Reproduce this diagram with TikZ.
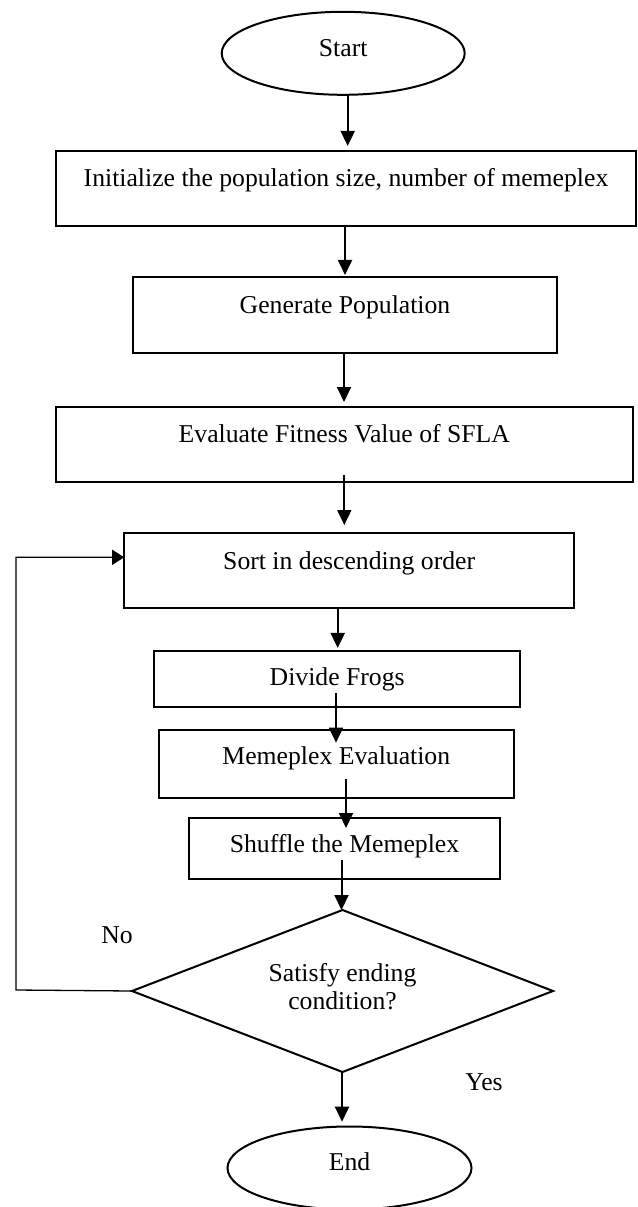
\documentclass[tikz,border=0pt]{standalone}
\usepackage{fontspec}
\setmainfont{Liberation Serif}
\usetikzlibrary{arrows.meta,shapes.geometric}
\begin{document}
\begin{tikzpicture}[x=1pt,y=-1pt,
  every node/.style={font=\fontsize{25.7}{27.6}\selectfont, inner sep=0pt, outer sep=0pt},
  box/.style={draw, line width=2pt, rectangle, text height=20pt},
  term/.style={draw, line width=2pt, ellipse, text height=20pt},
  dec/.style={draw, line width=2pt, diamond, aspect=2.6, text height=20pt},
  arr/.style={line width=2pt, -{Triangle[length=15pt,width=14pt]}},
  back/.style={line width=1.3pt},
  lbl/.style={anchor=base}
]
\useasboundingbox (0,0) rectangle (637,1207);

\node[term, minimum width=243pt, minimum height=83pt, text depth=13pt] (start) at (343.2,53.3) {Start};
\node[box, minimum width=580pt, minimum height=75.3pt, text depth=23.2pt] (init) at (346,188.3) {Initialize the population size, number of memeplex};
\node[box, minimum width=424pt, minimum height=75.7pt, text depth=23.6pt] (gen) at (345,314.8) {Generate Population};
\node[box, minimum width=577pt, minimum height=75pt, text depth=24pt] (eval) at (344.3,444.3) {Evaluate Fitness Value of SFLA};
\node[box, minimum width=450pt, minimum height=75pt, text depth=23.6pt] (sort) at (349.2,570.8) {Sort in descending order};
\node[box, minimum width=366pt, minimum height=55.7pt, text depth=6.2pt] (divide) at (337.2,678.8) {Divide Frogs};
\node[box, minimum width=355.5pt, minimum height=67.7pt, text depth=19.6pt] (mem) at (336.3,763.8) {Memeplex Evaluation};
\node[box, minimum width=311pt, minimum height=61pt, text depth=11.6pt] (shuffle) at (344.5,848.5) {Shuffle the Memeplex};
\node[dec, minimum width=421pt, minimum height=162pt, text depth=38.6pt] (cond) at (342.5,991) {\begin{tabular}[t]{@{}c@{}}Satisfy ending\\condition?\end{tabular}};
\node[term, minimum width=244pt, minimum height=83pt, text depth=16pt] (end) at (349.5,1168) {End};

\node[lbl] (no) at (117,943) {No};
\node[lbl] (yes) at (484,1090.7) {Yes};

\draw[arr] ([xshift=4.5pt]start.south) -- ([xshift=4.5pt,yshift=4.7pt]start.south |- init.north);
\draw[arr] ([xshift=-1pt]init.south) -- ([xshift=-1pt,yshift=2pt]init.south |- gen.north);
\draw[arr] ([xshift=-1pt]gen.south) -- ([xshift=-1pt,yshift=4.8pt]gen.south |- eval.north);
\draw[arr] ([yshift=6.8pt]eval.south) -- ([yshift=8.3pt]eval.south |- sort.north);
\draw[arr] ([xshift=-11.5pt]sort.south) -- ([xshift=-11.5pt,yshift=3pt]sort.south |- divide.north);
\draw[arr] ([xshift=-1.2pt,yshift=13.3pt]divide.south) -- ([xshift=-1.2pt,yshift=-12.7pt]divide.south |- mem.north);
\draw[arr] ([xshift=9.7pt,yshift=18.3pt]mem.south) -- ([xshift=9.7pt,yshift=-10pt]mem.south |- shuffle.north);
\draw[arr] ([xshift=-3pt,yshift=19pt]shuffle.south) -- ([xshift=-3pt]shuffle.south |- cond.north);
\draw[arr] ([xshift=-0.5pt]cond.south) -- ([xshift=-0.5pt,yshift=4.8pt]cond.south |- end.north);

\coordinate (fb) at (16,990);
\draw[back, -{Triangle[length=12pt,width=15pt]}] (cond.west) -- (fb) |- ([yshift=13.5pt]sort.west);
\end{tikzpicture}
\end{document}
